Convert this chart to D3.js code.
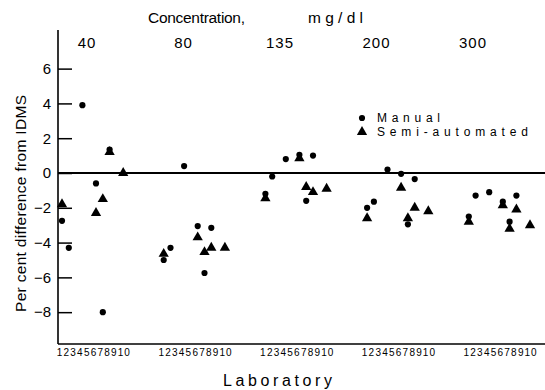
<!DOCTYPE html>
<html>
<head>
<meta charset="utf-8">
<script src="https://cdn.jsdelivr.net/npm/d3@7"></script>
<style>
  body { margin: 0; background: #fff; }
  svg { display: block; font-family: "Liberation Sans", Arial, sans-serif; }
  text { fill: #000; }
</style>
</head>
<body>
<svg id="chart" width="545" height="390"></svg>
<script>
// concentrations (top labels) and labs (bottom labels)
const concentrations = ['40', '80', '135', '200', '300'];
const labs = [1, 2, 3, 4, 5, 6, 7, 8, 9, 10];
const yTicks = [-8, -6, -4, -2, 0, 2, 4, 6];

// per cent difference from IDMS, one row per concentration, one value per lab
const manual = [
  [-2.75, -4.3, null, 3.9, null, -0.6, -8.0, 1.35, null, null],
  [-5.0, -4.3, null, 0.4, null, -3.05, -5.75, -3.15, null, null],
  [-1.2, -0.2, null, 0.8, null, 1.05, -1.6, 1.0, null, null],
  [-2.0, -1.65, null, 0.2, null, -0.05, -2.95, -0.35, null, null],
  [-2.5, -1.3, null, -1.1, null, -1.65, -2.8, -1.3, null, null],
];
const semiAutomated = [
  [-1.8, null, null, null, null, -2.3, -1.5, 1.2, null, 0.0],
  [-4.65, null, null, null, null, -3.7, -4.55, -4.3, null, -4.3],
  [-1.45, null, null, null, null, 0.85, -0.8, -1.1, null, -0.9],
  [-2.6, null, null, null, null, -0.85, -2.6, -2.0, null, -2.2],
  [-2.8, null, null, null, null, -1.85, -3.2, -2.1, null, -3.0],
];

const svg = d3.select('#chart');
const width = 545, height = 390;
const margin = { left: 58, top: 30, bottom: 46 };

const yScale = d3.scaleLinear()
  .domain([-9.83, 8.22])
  .range([height - margin.bottom, margin.top]);

const groupScale = d3.scalePoint()
  .domain(d3.range(concentrations.length))
  .range([62, 468.8]);
const labScale = d3.scaleLinear().domain([1, 10]).range([0, 61.2]);
const x = (g, lab) => groupScale(g) + labScale(lab);

const topScale = d3.scalePoint().domain(concentrations).range([87, 473]);

// flatten to points
const points = [];
concentrations.forEach((c, g) => {
  labs.forEach((lab, i) => {
    if (manual[g][i] != null) points.push({ g, lab, v: manual[g][i], type: 'manual' });
    if (semiAutomated[g][i] != null) points.push({ g, lab, v: semiAutomated[g][i], type: 'semi' });
  });
});

// axes lines
svg.append('line')
  .attr('x1', margin.left).attr('x2', margin.left)
  .attr('y1', margin.top).attr('y2', yScale.range()[0])
  .attr('stroke', '#000').attr('stroke-width', 1.6);
svg.append('line')
  .attr('x1', margin.left).attr('x2', width)
  .attr('y1', yScale.range()[0]).attr('y2', yScale.range()[0])
  .attr('stroke', '#000').attr('stroke-width', 1.6);

// y axis
const yAxis = d3.axisRight(yScale).tickValues(yTicks).tickSize(14)
  .tickFormat(d => (d < 0 ? '\u2212' + Math.abs(d) : d));
const yAxisG = svg.append('g')
  .attr('transform', `translate(${margin.left},0)`)
  .call(yAxis);
yAxisG.select('.domain').remove();
yAxisG.selectAll('.tick line').attr('stroke', '#000').attr('stroke-width', 1.5);
yAxisG.selectAll('.tick text')
  .attr('x', -7).attr('text-anchor', 'end')
  .attr('font-size', 15).attr('font-family', '"Liberation Sans", Arial, sans-serif')
  .attr('fill', '#000');

// zero line
svg.append('line')
  .attr('x1', margin.left).attr('x2', width)
  .attr('y1', yScale(0)).attr('y2', yScale(0))
  .attr('stroke', '#000').attr('stroke-width', 2);

// bottom lab labels per group
concentrations.forEach((c, g) => {
  const labAxis = d3.axisBottom(d3.scaleLinear().domain([1, 10]).range([groupScale(g), groupScale(g) + 61.2]))
    .tickValues(labs).tickSize(0).tickFormat(d3.format('d'));
  const ga = svg.append('g')
    .attr('transform', `translate(0,${yScale.range()[0] + 2})`)
    .call(labAxis);
  ga.select('.domain').remove();
  ga.selectAll('.tick text')
    .attr('font-size', 10).attr('fill', '#000')
    .attr('font-family', '"Liberation Sans", Arial, sans-serif')
    .attr('dx', d => d === 10 ? 0.6 : -3)
    .attr('letter-spacing', d => d === 10 ? 1 : 0);
});

// top concentration labels
svg.append('g').selectAll('text')
  .data(concentrations)
  .join('text')
  .attr('x', d => topScale(d))
  .attr('y', 48)
  .attr('text-anchor', 'middle')
  .attr('font-size', 15)
  .attr('letter-spacing', 1)
  .text(d => d);

// titles
svg.append('text')
  .attr('x', 148).attr('y', 23)
  .attr('font-size', 15.5)
  .attr('textLength', 97).attr('lengthAdjust', 'spacing')
  .text('Concentration,');
svg.append('text')
  .attr('x', 308).attr('y', 23)
  .attr('font-size', 15.5)
  .attr('textLength', 55).attr('lengthAdjust', 'spacing')
  .text('mg/dl');
svg.append('text')
  .attr('x', 223).attr('y', 386)
  .attr('font-size', 16)
  .attr('textLength', 109).attr('lengthAdjust', 'spacing')
  .text('Laboratory');
svg.append('text')
  .attr('transform', 'translate(26,312) rotate(-90)')
  .attr('font-size', 15.5)
  .attr('textLength', 217).attr('lengthAdjust', 'spacing')
  .text('Per cent difference from IDMS');

// markers
const circle = d3.symbol().type(d3.symbolCircle).size(30);
const triangle = d3.symbol().type(d3.symbolTriangle).size(46);

svg.append('g').selectAll('path')
  .data(points)
  .join('path')
  .attr('d', d => d.type === 'manual' ? circle() : triangle())
  .attr('transform', d => `translate(${x(d.g, d.lab)},${yScale(d.v)})`)
  .attr('fill', '#000');

// legend
const legend = svg.append('g');
legend.append('path').attr('d', circle()).attr('transform', 'translate(362,118)');
legend.append('path').attr('d', triangle()).attr('transform', 'translate(362,132)');
legend.append('text').attr('x', 377).attr('y', 121.5).attr('font-size', 12)
  .attr('textLength', 63).attr('lengthAdjust', 'spacing').text('Manual');
legend.append('text').attr('x', 377).attr('y', 136).attr('font-size', 12)
  .attr('textLength', 151).attr('lengthAdjust', 'spacing').text('Semi-automated');
</script>
</body>
</html>
